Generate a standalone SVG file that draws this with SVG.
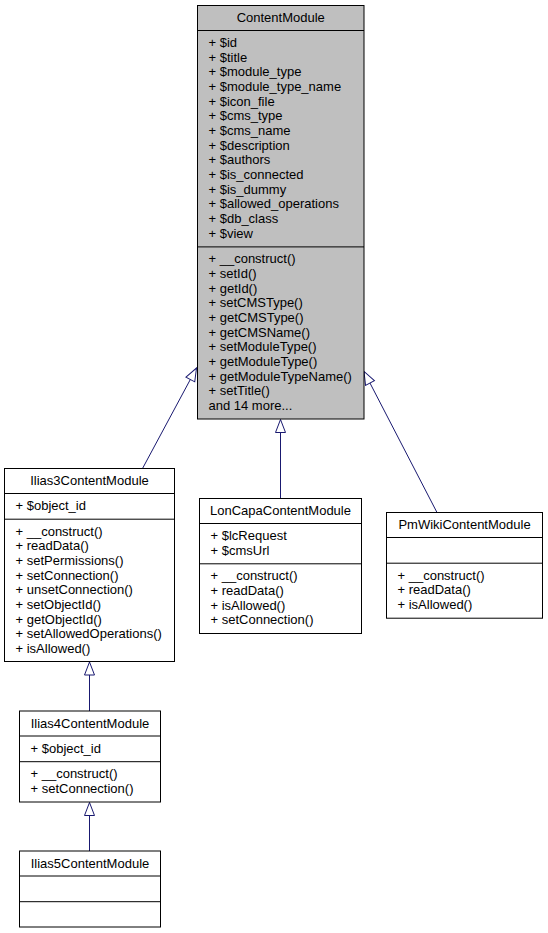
<svg xmlns="http://www.w3.org/2000/svg" width="548" height="933" viewBox="0 0 548 933">
<style>
  .box { fill: #ffffff; stroke: #000000; stroke-width: 1; }
  .root { fill: #bfbfbf; stroke: #000000; stroke-width: 1; }
  .sep { stroke: #000000; stroke-width: 1; }
  text { font-family: "Liberation Sans", Arial, Helvetica, sans-serif; font-size: 13px; fill: #000000; }
  .title { text-anchor: middle; }
  .edge { fill: none; stroke: #191970; stroke-width: 1; marker-end: url(#inh); }
</style>
<defs>
  <marker id="inh" markerUnits="userSpaceOnUse" viewBox="-1 -1 16 14" markerWidth="16" markerHeight="14" refX="13" refY="5" orient="auto">
    <polygon points="0,0 13,5 0,10" fill="#ffffff" stroke="#191970" stroke-width="1"/>
  </marker>
</defs>
<rect width="548" height="933" fill="#ffffff"/>

<g id="edges">
  <path class="edge" d="M142.5,468.5 L196.5,368"/>
  <path class="edge" d="M280.5,498.5 L280.5,419.5"/>
  <path class="edge" d="M437,512.5 L364,371.5"/>
  <path class="edge" d="M89.5,711 L89.5,662"/>
  <path class="edge" d="M89.5,851 L89.5,802.5"/>
</g>

<g id="ContentModule">
  <rect class="root" x="197.5" y="5.5" width="166.5" height="413.5"/>
  <line class="sep" x1="197.5" y1="30.5" x2="364" y2="30.5"/>
  <line class="sep" x1="197.5" y1="246.9" x2="364" y2="246.9"/>
  <text class="title" x="280.75" y="22">ContentModule</text>
  <text x="208.5" y="47">+ $id</text>
  <text x="208.5" y="61.67">+ $title</text>
  <text x="208.5" y="76.33">+ $module_type</text>
  <text x="208.5" y="91">+ $module_type_name</text>
  <text x="208.5" y="105.67">+ $icon_file</text>
  <text x="208.5" y="120.33">+ $cms_type</text>
  <text x="208.5" y="135">+ $cms_name</text>
  <text x="208.5" y="149.67">+ $description</text>
  <text x="208.5" y="164.33">+ $authors</text>
  <text x="208.5" y="179">+ $is_connected</text>
  <text x="208.5" y="193.67">+ $is_dummy</text>
  <text x="208.5" y="208.33">+ $allowed_operations</text>
  <text x="208.5" y="223">+ $db_class</text>
  <text x="208.5" y="237.67">+ $view</text>
  <text x="208.5" y="263.4">+ __construct()</text>
  <text x="208.5" y="278.07">+ setId()</text>
  <text x="208.5" y="292.73">+ getId()</text>
  <text x="208.5" y="307.4">+ setCMSType()</text>
  <text x="208.5" y="322.07">+ getCMSType()</text>
  <text x="208.5" y="336.73">+ getCMSName()</text>
  <text x="208.5" y="351.4">+ setModuleType()</text>
  <text x="208.5" y="366.07">+ getModuleType()</text>
  <text x="208.5" y="380.73">+ getModuleTypeName()</text>
  <text x="208.5" y="395.4">+ setTitle()</text>
  <text x="208.5" y="410.07">and 14 more...</text>
</g>

<g id="Ilias3ContentModule">
  <rect class="box" x="4.5" y="468.5" width="170" height="193"/>
  <line class="sep" x1="4.5" y1="493.5" x2="174.5" y2="493.5"/>
  <line class="sep" x1="4.5" y1="519.2" x2="174.5" y2="519.2"/>
  <text class="title" x="89.5" y="485">Ilias3ContentModule</text>
  <text x="15.5" y="510">+ $object_id</text>
  <text x="15.5" y="535.7">+ __construct()</text>
  <text x="15.5" y="550.37">+ readData()</text>
  <text x="15.5" y="565.03">+ setPermissions()</text>
  <text x="15.5" y="579.7">+ setConnection()</text>
  <text x="15.5" y="594.37">+ unsetConnection()</text>
  <text x="15.5" y="609.03">+ setObjectId()</text>
  <text x="15.5" y="623.7">+ getObjectId()</text>
  <text x="15.5" y="638.37">+ setAllowedOperations()</text>
  <text x="15.5" y="653.03">+ isAllowed()</text>
</g>

<g id="LonCapaContentModule">
  <rect class="box" x="199.5" y="498.5" width="162" height="135"/>
  <line class="sep" x1="199.5" y1="523.5" x2="361.5" y2="523.5"/>
  <line class="sep" x1="199.5" y1="563.8" x2="361.5" y2="563.8"/>
  <text class="title" x="280.5" y="515">LonCapaContentModule</text>
  <text x="210.5" y="540">+ $lcRequest</text>
  <text x="210.5" y="554.67">+ $cmsUrl</text>
  <text x="210.5" y="580.3">+ __construct()</text>
  <text x="210.5" y="594.97">+ readData()</text>
  <text x="210.5" y="609.63">+ isAllowed()</text>
  <text x="210.5" y="624.3">+ setConnection()</text>
</g>

<g id="PmWikiContentModule">
  <rect class="box" x="386.5" y="512.5" width="156" height="105.7"/>
  <line class="sep" x1="386.5" y1="537.5" x2="542.5" y2="537.5"/>
  <line class="sep" x1="386.5" y1="563.2" x2="542.5" y2="563.2"/>
  <text class="title" x="464.5" y="529">PmWikiContentModule</text>
  <text x="397.5" y="579.7">+ __construct()</text>
  <text x="397.5" y="594.37">+ readData()</text>
  <text x="397.5" y="609.03">+ isAllowed()</text>
</g>

<g id="Ilias4ContentModule">
  <rect class="box" x="19.5" y="711" width="141" height="91"/>
  <line class="sep" x1="19.5" y1="736" x2="160.5" y2="736"/>
  <line class="sep" x1="19.5" y1="761.7" x2="160.5" y2="761.7"/>
  <text class="title" x="90" y="727.5">Ilias4ContentModule</text>
  <text x="30.5" y="752.5">+ $object_id</text>
  <text x="30.5" y="778.2">+ __construct()</text>
  <text x="30.5" y="792.87">+ setConnection()</text>
</g>

<g id="Ilias5ContentModule">
  <rect class="box" x="19.5" y="851" width="141" height="76"/>
  <line class="sep" x1="19.5" y1="876" x2="160.5" y2="876"/>
  <line class="sep" x1="19.5" y1="901.7" x2="160.5" y2="901.7"/>
  <text class="title" x="90" y="867.5">Ilias5ContentModule</text>
</g>
</svg>
